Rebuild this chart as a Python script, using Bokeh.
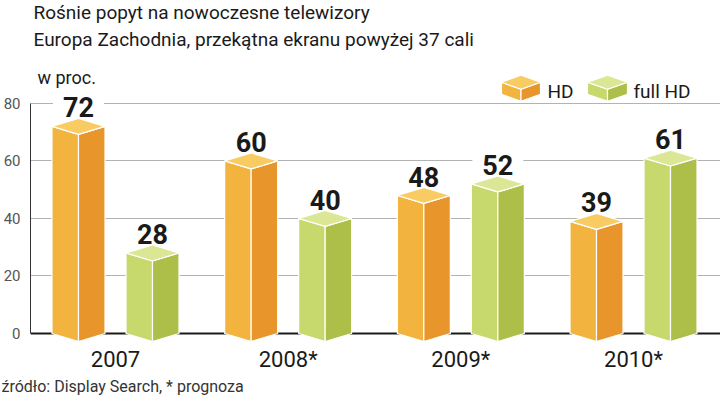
from bokeh.plotting import figure
from bokeh.models import Range1d, FixedTicker, Span, Label, ColumnDataSource, Title
from bokeh.core.properties import value
from bokeh.embed import file_html
from bokeh.resources import INLINE

# ---- data ----
years = ["2007", "2008*", "2009*", "2010*"]
hd = [72, 60, 48, 39]
full_hd = [28, 40, 52, 61]
series_names = ["HD", "full HD"]
y_ticks = [0, 20, 40, 60, 80]
grid_ticks = [20, 40, 60, 80]

title1 = "Rośnie popyt na nowoczesne telewizory"
title2 = "Europa Zachodnia, przekątna ekranu powyżej 37 cali"
unit_txt = "w proc."
source_txt = "źródło: Display Search, * prognoza"

# ---- styles ----
ORANGE = dict(left="#F2B33F", right="#E8952B", top="#F8CB63")
GREEN = dict(left="#C7D96C", right="#ADBF48", top="#DCE795")
FONT = "Roboto"

# geometry (page pixels -> data units)
W, H = 720, 395
FRAME_L, FRAME_R, FRAME_T, FRAME_B = 30, 720, 0, 344
BASE_PY = 334
PX_PER_CAT = 172.67
PPU = 2.885
X_START = -(115 - FRAME_L) / PX_PER_CAT
X_END = X_START + (FRAME_R - FRAME_L) / PX_PER_CAT
Y_END = (BASE_PY - FRAME_T) / PPU
Y_START = (BASE_PY - FRAME_B) / PPU


def px2x(px):
    return X_START + (px - FRAME_L) / PX_PER_CAT


def px2y(py):
    return (BASE_PY - py) / PPU


HALF_W = 26.5 / PX_PER_CAT
DODGE = 37 / PX_PER_CAT
DEPTH = 8 / PPU

p = figure(width=W, height=H, output_backend="svg", toolbar_location=None,
           x_range=Range1d(X_START, X_END), y_range=Range1d(Y_START, Y_END),
           min_border_left=FRAME_L, min_border_right=W - FRAME_R,
           min_border_top=FRAME_T, min_border_bottom=H - FRAME_B)
p.outline_line_color = None
p.background_fill_color = "white"
p.border_fill_color = "white"

# axes
p.yaxis.ticker = FixedTicker(ticks=y_ticks)
p.yaxis.bounds = (0, 80)
p.yaxis.major_tick_out = 0
p.yaxis.major_tick_in = 0
p.yaxis.minor_tick_out = 0
p.yaxis.minor_tick_in = 0
p.yaxis.axis_line_color = "#333333"
p.yaxis.axis_line_width = 1
p.yaxis.major_label_standoff = 10
p.yaxis.major_label_text_font = FONT
p.yaxis.major_label_text_font_size = "15px"
p.yaxis.major_label_text_color = "#555555"

xt = list(range(len(years)))
p.xaxis.ticker = FixedTicker(ticks=xt)
p.xaxis.major_label_overrides = {i: y for i, y in zip(xt, years)}
p.xaxis.axis_line_color = None
p.xaxis.major_tick_out = 0
p.xaxis.major_tick_in = 0
p.xaxis.minor_tick_out = 0
p.xaxis.minor_tick_in = 0
p.xaxis.major_label_standoff = 3
p.xaxis.major_label_text_font = FONT
p.xaxis.major_label_text_font_size = "22px"
p.xaxis.major_label_text_color = "#1a1a1a"

p.xgrid.visible = False
p.ygrid.ticker = FixedTicker(ticks=grid_ticks)
p.ygrid.grid_line_color = "#b3b3b3"
p.ygrid.grid_line_width = 1

p.add_layout(Span(location=0, dimension="width", line_color="#1a1a1a",
                  line_width=2, level="underlay"))


def prism(xc, hw, v, d, colors):
    xl, xr = xc - hw, xc + hw
    return [
        ([xl, xl, xc, xc], [0, v, v - d, -d], colors["left"]),
        ([xc, xc, xr, xr], [-d, v - d, v, 0], colors["right"]),
        ([xl, xc, xr, xc], [v, v + d, v, v - d], colors["top"]),
    ]


def draw_prisms(xs, vals, colors, hw, d, base=0.0):
    fx, fy, fc = [], [], []
    for xc, v in zip(xs, vals):
        for X, Y, c in prism(xc, hw, v, d, colors):
            fx.append(X)
            fy.append([y + base for y in Y])
            fc.append(c)
    p.patches(xs="xs", ys="ys", fill_color="c", line_color="white",
              line_width=1.2,
              source=ColumnDataSource(dict(xs=fx, ys=fy, c=fc)))


hd_x = [i - DODGE for i in xt]
fhd_x = [i + DODGE for i in xt]
draw_prisms(hd_x, hd, ORANGE, HALF_W, DEPTH)
draw_prisms(fhd_x, full_hd, GREEN, HALF_W, DEPTH)

# value labels (centred ~11px above the back corner of the top face)
lab_x = hd_x + fhd_x
lab_v = hd + full_hd
p.text(x=lab_x, y=[v + DEPTH + 11 / PPU for v in lab_v],
       text=[str(v) for v in lab_v],
       text_font=value(FONT), text_font_style="bold",
       text_font_size="27px", text_color="#1a1a1a",
       text_align="center", text_baseline="middle",
       background_fill_color="white",
       padding=dict(left=10, right=10, top=0, bottom=0))

# legend (manual 3D cubes)
leg_d = 7 / PPU
leg_h = 12 / PPU
for (x0, x1), colors, name, tx in [((501, 540), ORANGE, series_names[0], 547),
                                  ((587, 627), GREEN, series_names[1], 633)]:
    xc = (px2x(x0) + px2x(x1)) / 2
    hw = (px2x(x1) - px2x(x0)) / 2
    draw_prisms([xc], [leg_h], colors, hw, leg_d, base=px2y(94))
    p.add_layout(Label(x=px2x(tx), y=px2y(91), text=name,
                       text_font=FONT, text_font_size="19px",
                       text_color="#1a1a1a", text_baseline="middle"))

# titles and notes
for txt, px, py, fs in [(title1, 33, 12.5, "19px"), (title2, 33, 39.5, "19px"),
                        (unit_txt, 37, 77, "18px")]:
    p.add_layout(Label(x=px2x(px), y=px2y(py), text=txt, text_font=FONT,
                       text_font_size=fs, text_color="#1a1a1a",
                       text_baseline="middle"))

p.add_layout(Title(text=source_txt, align="left", offset=-FRAME_L + 1,
                   standoff=0, text_font=FONT, text_font_size="16px",
                   text_font_style="normal", text_color="#333333"), "below")

open("out.html", "w").write(file_html(p, INLINE))
